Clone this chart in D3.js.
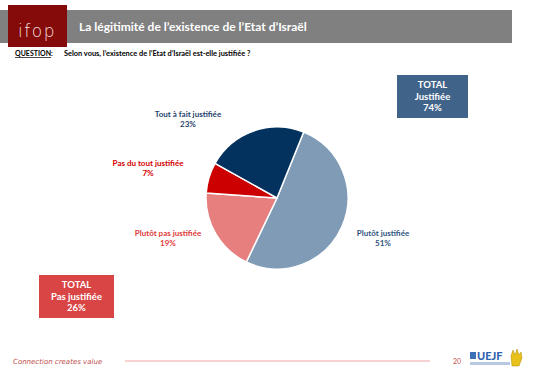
<!DOCTYPE html>
<html>
<head>
<meta charset="utf-8">
<script src="https://cdn.jsdelivr.net/npm/d3@7"></script>
<style>
  body { margin: 0; background: #fff; }
  svg { display: block; font-family: Lato, 'Open Sans', sans-serif; }
</style>
</head>
<body>
<svg class="d3SVG"></svg>
<script>
// chart data
const categories = ['Plutôt justifiée', 'Plutôt pas justifiée', 'Pas du tout justifiée', 'Tout à fait justifiée']
const values = [51, 19, 7, 23]
const totalLabels = ['Justifiée', 'Pas justifiée']
const totalValues = [74, 26]

const colors = ['#7f9bb6', '#e67f7e', '#cc0000', '#04325f']
const labelColors = ['#2f5580', '#e03a3a', '#d40000', '#1f3f6e']
// manual label spots (like the pptx), relative to pie centre
const labelSpots = [[106, 38], [-109, 38], [-129, -32], [-89, -81]]

const width = 536
const height = 370
const cx = 277
const cy = 198
const radius = 71

const svg = d3.select('.d3SVG')
  .attr('width', width)
  .attr('height', height)

// header
svg.append('rect')
  .attr('x', 0).attr('y', 10)
  .attr('width', 512).attr('height', 33)
  .style('fill', '#808080')

svg.append('rect')
  .attr('x', 8).attr('y', 5)
  .attr('width', 59).attr('height', 42)
  .style('fill', '#850b0b')

svg.append('text')
  .attr('x', 37).attr('y', 37)
  .style('text-anchor', 'middle')
  .style('fill', '#f3dede')
  .style('font-family', 'DejaVu Sans')
  .style('font-weight', 200)
  .style('font-size', '17px')
  .style('letter-spacing', '1.5px')
  .text('ifop')

svg.append('text')
  .attr('x', 79).attr('y', 31)
  .style('fill', '#fff')
  .style('font-weight', 'bold')
  .style('font-size', '12px')
  .text('La légitimité de l’existence de l’Etat d’Israël')

svg.append('text')
  .attr('x', 15).attr('y', 56)
  .style('font-weight', 'bold')
  .style('font-size', '7px')
  .style('text-decoration', 'underline')
  .text('QUESTION')

svg.append('text')
  .attr('x', 51).attr('y', 56)
  .style('font-weight', 'bold')
  .style('font-size', '7px')
  .text(':')

svg.append('text')
  .attr('x', 64).attr('y', 56)
  .style('font-weight', 'bold')
  .style('font-size', '7.4px')
  .text('Selon vous, l’existence de l’Etat d’Israël est-elle justifiée ?')

// pie
const pie = d3.pie()
  .sort(null)
  .startAngle(22 * Math.PI / 180)
  .endAngle(382 * Math.PI / 180)

const arc = d3.arc()
  .innerRadius(0)
  .outerRadius(radius)

const g = svg.append('g')
  .attr('transform', 'translate(' + cx + ',' + cy + ')')

g.selectAll('path')
  .data(pie(values))
  .enter()
  .append('path')
  .attr('d', arc)
  .style('fill', (d, i) => colors[i])
  .style('stroke', '#fff')
  .style('stroke-width', 1.5)

const labels = g.selectAll('.pieLabel')
  .data(pie(values))
  .enter()
  .append('text')
  .classed('pieLabel', true)
  .attr('transform', (d, i) => 'translate(' + labelSpots[i][0] + ',' + labelSpots[i][1] + ')')
  .style('text-anchor', 'middle')
  .style('font-weight', 'bold')
  .style('font-size', '8px')
  .style('fill', (d, i) => labelColors[i])

labels.append('tspan')
  .attr('x', 0)
  .text((d, i) => categories[i])

labels.append('tspan')
  .attr('x', 0)
  .attr('dy', 10)
  .text((d) => d.data + '%')

// total boxes
const boxes = [
  { x: 397, y: 75, w: 71, h: 43, fill: '#3f6389' },
  { x: 39, y: 275, w: 75, h: 43, fill: '#d94545' }
]
boxes.forEach((b, i) => {
  svg.append('rect')
    .attr('x', b.x).attr('y', b.y)
    .attr('width', b.w).attr('height', b.h)
    .style('fill', b.fill)
  const t = svg.append('text')
    .attr('x', b.x + b.w / 2).attr('y', b.y + 13)
    .style('text-anchor', 'middle')
    .style('font-weight', 'bold')
    .style('font-size', '9.5px')
    .style('fill', '#fff')
  t.append('tspan').attr('x', b.x + b.w / 2).text('TOTAL')
  t.append('tspan').attr('x', b.x + b.w / 2).attr('dy', 11.5).text(totalLabels[i])
  t.append('tspan').attr('x', b.x + b.w / 2).attr('dy', 11.5).text(totalValues[i] + '%')
})

// footer
svg.append('text')
  .attr('x', 13).attr('y', 364)
  .style('font-style', 'italic')
  .style('font-size', '7px')
  .style('fill', '#c0504d')
  .style('font-family', 'DejaVu Sans')
  .style('font-weight', 200)
  .text('Connection creates value')

svg.append('line')
  .attr('x1', 125).attr('x2', 430)
  .attr('y1', 361).attr('y2', 361)
  .style('stroke', '#eba7a7')
  .style('stroke-width', 1)

svg.append('text')
  .attr('x', 453).attr('y', 364)
  .style('font-size', '7px')
  .style('fill', '#c0504d')
  .text('20')

svg.append('rect')
  .attr('x', 470).attr('y', 352)
  .attr('width', 6).attr('height', 7)
  .style('fill', '#3b6fb6')
svg.append('text')
  .attr('x', 477).attr('y', 360)
  .style('font-weight', 900)
  .style('font-size', '11px')
  .style('fill', '#2f63b0')
  .text('UEJF')
svg.append('rect')
  .attr('x', 470).attr('y', 362)
  .attr('width', 40).attr('height', 3)
  .style('fill', '#b8c8e0')
svg.append('path')
  .attr('d', 'M512,366 L511,356 L513,350 L515,355 L517,349 L519,355 L521,352 L522,358 L519,366 Z')
  .style('fill', '#e8c21a')
  .style('stroke', '#b08a00')
  .style('stroke-width', 0.5)
</script>
</body>
</html>
